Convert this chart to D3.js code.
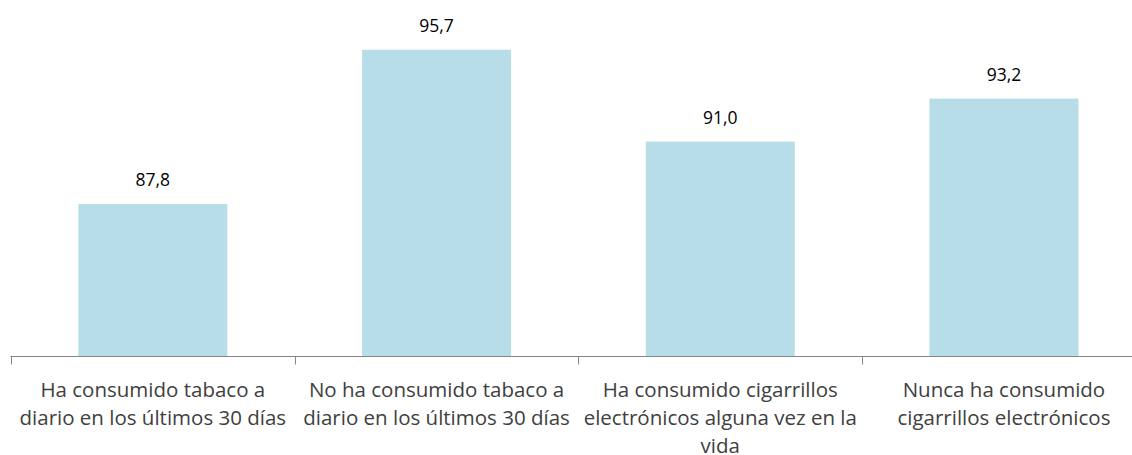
<!DOCTYPE html>
<html>
<head>
<meta charset="utf-8">
<script src="https://cdn.jsdelivr.net/npm/d3@7"></script>
<style>
  html, body { margin: 0; padding: 0; background: #fff; }
  svg { display: block; }
</style>
</head>
<body>
<svg id="chart" width="1132" height="455"></svg>
<script>
const categories = [
  "Ha consumido tabaco a diario en los últimos 30 días",
  "No ha consumido tabaco a diario en los últimos 30 días",
  "Ha consumido cigarrillos electrónicos alguna vez en la vida",
  "Nunca ha consumido cigarrillos electrónicos"
];
const categoryLines = [
  ["Ha consumido tabaco a", "diario en los últimos 30 días"],
  ["No ha consumido tabaco a", "diario en los últimos 30 días"],
  ["Ha consumido cigarrillos", "electrónicos alguna vez en la", "vida"],
  ["Nunca ha consumido", "cigarrillos electrónicos"]
];
const values = [87.8, 95.7, 91.0, 93.2];
const valueLabels = ["87,8", "95,7", "91,0", "93,2"];

const svg = d3.select("#chart");
const W = 1132, H = 455;
const baseY = 356.5;

const x = d3.scaleBand().domain(categories).range([11, 1145.8]).padding(0);
const y = d3.scaleLinear().domain([80, 98]).range([baseY, 4.8]);
const bw = 149;

svg.append("g").selectAll("rect").data(categories).join("rect")
  .attr("x", (d) => x(d) + (x.bandwidth() - bw) / 2)
  .attr("y", (d, i) => y(values[i]))
  .attr("width", bw)
  .attr("height", (d, i) => baseY - y(values[i]))
  .attr("fill", "#B7DDE8");

svg.append("g").selectAll("text").data(categories).join("text")
  .attr("x", (d) => x(d) + x.bandwidth() / 2)
  .attr("y", (d, i) => y(values[i]) - 18)
  .attr("text-anchor", "middle")
  .attr("font-family", "'Open Sans', sans-serif")
  .attr("font-size", 17.5)
  .attr("fill", "#000")
  .text((d, i) => valueLabels[i]);

const axis = d3.axisBottom(x).tickSize(0).tickSizeOuter(0);
const gx = svg.append("g").attr("transform", `translate(0,${baseY})`).call(axis);
gx.select(".domain").attr("stroke", "#868686").attr("stroke-width", 1).attr("d", `M10.5,0H${W}`);
gx.selectAll(".tick line").remove();
gx.selectAll(".tick text").remove();

// category boundary ticks
const bounds = categories.map((d) => x(d));
svg.append("g").selectAll("line").data(bounds).join("line")
  .attr("x1", (d) => Math.round(d) + 0.5).attr("x2", (d) => Math.round(d) + 0.5)
  .attr("y1", baseY).attr("y2", baseY + 8)
  .attr("stroke", "#868686").attr("stroke-width", 1);

// category labels
const labelG = svg.append("g")
  .attr("font-family", "'Open Sans', sans-serif")
  .attr("font-size", 20.5)
  .attr("fill", "#404040")
  .attr("text-anchor", "middle");

categories.forEach((c, ci) => {
  const t = labelG.append("text")
    .attr("x", x(c) + x.bandwidth() / 2)
    .attr("y", 396.8);
  categoryLines[ci].forEach((l, i) => {
    t.append("tspan")
      .attr("x", x(c) + x.bandwidth() / 2)
      .attr("dy", i === 0 ? 0 : 28)
      .text(l);
  });
});
</script>
</body>
</html>
